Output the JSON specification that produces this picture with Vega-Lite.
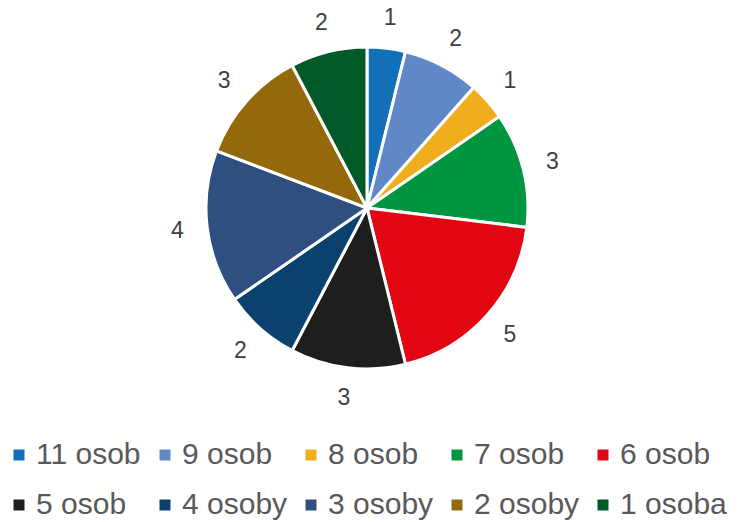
{
  "$schema": "https://vega.github.io/schema/vega-lite/v6.json",
  "width": 734,
  "height": 416,
  "padding": 0,
  "autosize": {"type": "pad"},
  "background": "white",
  "data": {
    "values": [
      {"kategorie": "11 osob", "pocet": 1, "poradi": 1},
      {"kategorie": "9 osob", "pocet": 2, "poradi": 2},
      {"kategorie": "8 osob", "pocet": 1, "poradi": 3},
      {"kategorie": "7 osob", "pocet": 3, "poradi": 4},
      {"kategorie": "6 osob", "pocet": 5, "poradi": 5},
      {"kategorie": "5 osob", "pocet": 3, "poradi": 6},
      {"kategorie": "4 osoby", "pocet": 2, "poradi": 7},
      {"kategorie": "3 osoby", "pocet": 4, "poradi": 8},
      {"kategorie": "2 osoby", "pocet": 3, "poradi": 9},
      {"kategorie": "1 osoba", "pocet": 2, "poradi": 10}
    ]
  },
  "encoding": {
    "theta": {"field": "pocet", "type": "quantitative", "stack": true},
    "order": {"field": "poradi", "type": "quantitative"}
  },
  "layer": [
    {
      "mark": {"type": "arc", "outerRadius": 161, "stroke": "white", "strokeWidth": 3},
      "encoding": {
        "color": {
          "field": "kategorie",
          "type": "nominal",
          "sort": ["11 osob", "9 osob", "8 osob", "7 osob", "6 osob", "5 osob", "4 osoby", "3 osoby", "2 osoby", "1 osoba"],
          "scale": {
            "domain": ["11 osob", "9 osob", "8 osob", "7 osob", "6 osob", "5 osob", "4 osoby", "3 osoby", "2 osoby", "1 osoba"],
            "range": ["#1270B8", "#6088C6", "#F0AD1E", "#009640", "#E20613", "#1E1E1C", "#0B416E", "#2E4F80", "#94690C", "#005A28"]
          },
          "legend": {
            "title": null,
            "orient": "none",
            "legendX": 4,
            "legendY": 440,
            "padding": 0,
            "direction": "horizontal",
            "columns": 5,
            "gridAlign": "all",
            "columnPadding": 7,
            "rowPadding": 20,
            "symbolType": "square",
            "symbolSize": 121,
            "symbolStrokeWidth": 0,
            "symbolOffset": 0,
            "labelOffset": 2,
            "labelFont": "Liberation Sans, Arial",
            "labelFontSize": 30,
            "labelColor": "#595959",
            "labelLimit": 300
          }
        }
      }
    },
    {
      "mark": {"type": "text", "radius": 191, "font": "Liberation Sans, Arial", "fontSize": 23, "color": "#404040"},
      "encoding": {
        "text": {"field": "pocet", "type": "quantitative"}
      }
    }
  ]
}
